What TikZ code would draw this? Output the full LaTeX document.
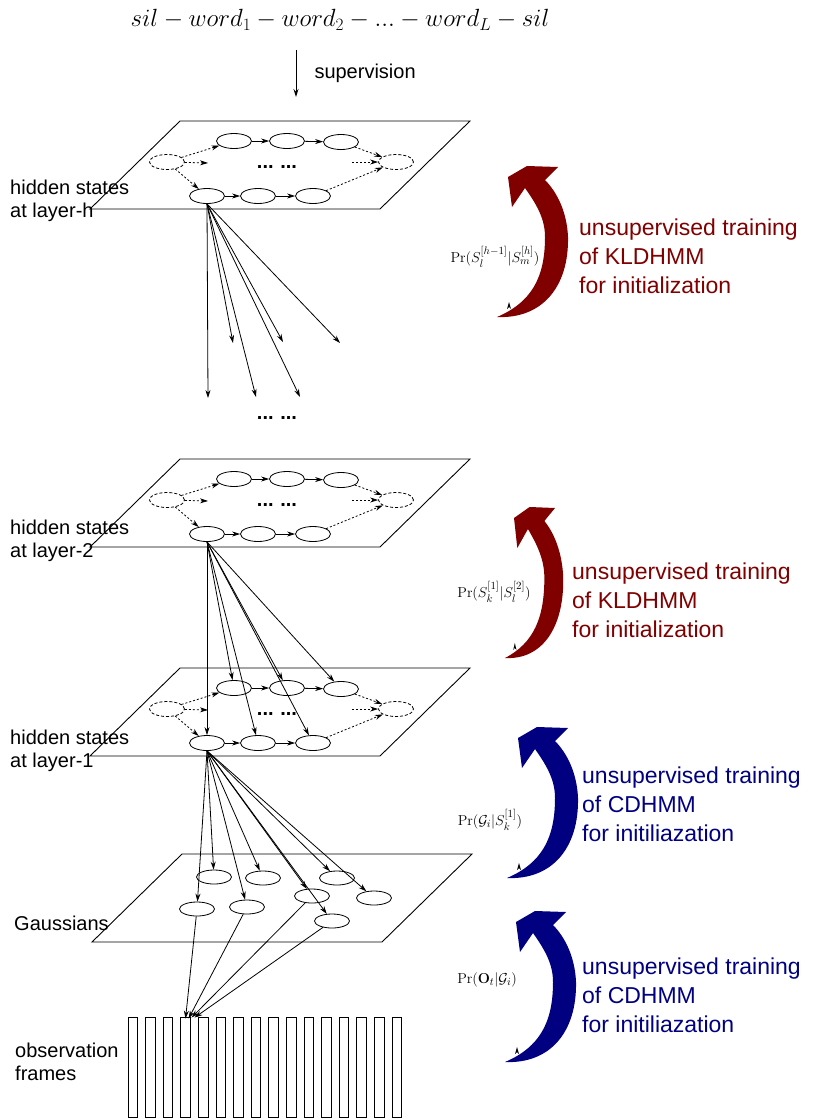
\documentclass[tikz,border=0pt]{standalone}
\usepackage[no-math]{fontspec}
\setmainfont{Liberation Sans}
\usepackage{amsmath}
\usetikzlibrary{arrows.meta, shapes.geometric, positioning}
\definecolor{kldred}{RGB}{128,0,0}
\definecolor{cdblue}{RGB}{0,0,128}

% one plane of hidden states: #1 = name prefix, #2 = y of the top edge
\newcommand{\statelayer}[2]{%
  \draw[plane] (180,#2) -- (470,#2) -- (380,#2+88) -- (90,#2+88) -- cycle;
  \node[state] (#1-t1) at (234,#2+20) {};
  \node[state] (#1-t2) at (287,#2+20) {};
  \node[state] (#1-t3) at (341,#2+21) {};
  \node[state] (#1-b1) at (207,#2+75) {};
  \node[state] (#1-b2) at (258,#2+75) {};
  \node[state] (#1-b3) at (313,#2+75) {};
  \node[state, silstate] (#1-sil0) at (167,#2+41) {};
  \node[state, silstate] (#1-sil1) at (396,#2+41) {};
  \node[dots] (#1-dots) at (277,#2+46) {...\,\,...};
  \coordinate (#1-in) at (208,#2+42);
  \coordinate (#1-out) at (352,#2+41);
  \draw[arrow] (#1-t1) -- (#1-t2);
  \draw[arrow] (#1-t2) -- (#1-t3);
  \draw[arrow] (#1-b1) -- (#1-b2);
  \draw[arrow] (#1-b2) -- (#1-b3);
  \draw[skip] (#1-sil0) -- (#1-t1);
  \draw[skip] (#1-sil0) -- (#1-in);
  \draw[skip] (#1-sil0) -- (#1-b1);
  \draw[skip] (#1-t3) -- (#1-sil1);
  \draw[skip] (#1-out) -- (#1-sil1);
  \draw[skip] (#1-b3) -- (#1-sil1);
}

% fat curved arrow, #1 = colour, (#2,#3) = its tail, #4 = horizontal stretch
\newcommand{\trainarrow}[4]{%
  \begin{scope}[shift={(#2,#3)}, xscale=#4]
  \fill[#1] (0,0)
    .. controls (45,2) and (72,-30) .. (71,-80)
    .. controls (70,-105) and (60,-125) .. (48,-137)
    -- (61,-150) -- (30,-151) -- (11,-140) -- (15,-110) -- (28,-129)
    .. controls (40,-112) and (48,-98) .. (48,-80)
    .. controls (48,-40) and (35,-15) .. (0,0) -- cycle;
  % small tip left at the tail
  \fill[black] (10,-8) -- (12,-15) -- (14,-8) -- (12,-10) -- cycle;
  \end{scope}
}

\begin{document}
\begin{tikzpicture}[
    x=1pt, y=-1pt,
    plane/.style={draw, line width=0.9pt},
    state/.style={ellipse, draw, line width=0.8pt, minimum width=35pt, minimum height=15pt, inner sep=0pt},
    silstate/.style={dash pattern=on 3pt off 2pt},
    gauss/.style={ellipse, draw, line width=0.8pt, minimum width=35pt, minimum height=14pt, inner sep=0pt},
    frame/.style={rectangle, draw, line width=0.8pt, minimum width=9.5pt, minimum height=100pt, inner sep=0pt},
    dots/.style={font=\fontsize{20}{20}\selectfont\bfseries, inner sep=0pt},
    arrow/.style={-{Stealth[length=8pt, width=5pt]}, line width=0.8pt},
    skip/.style={arrow, dash pattern=on 2pt off 2pt},
    lbl/.style={font=\fontsize{20}{23}\selectfont, align=left, anchor=west, inner sep=0pt},
    train/.style={font=\fontsize{23}{29}\selectfont, align=left, anchor=west, inner sep=0pt},
    prob/.style={font=\fontsize{15.5}{18}\selectfont, inner sep=0pt}
]
    \useasboundingbox (0,0) rectangle (812,1119);

    % Label sequence and supervision
    \node[inner sep=0pt, font=\fontsize{25}{25}\selectfont] (words) at (340,20)
        {$sil - word_1 - word_2 - ... - word_L - sil$};
    \coordinate (sup-from) at (296,50);
    \coordinate (sup-to) at (296,97);
    \draw[arrow, line width=1pt] (sup-from) -- (sup-to)
        node[midway, right=18pt, lbl, anchor=west] {supervision};

    % Hidden state planes
    \statelayer{lh}{121}
    \statelayer{l2}{459}
    \statelayer{l1}{668}

    % Layer h fans out to the layers below
    \coordinate (fan1) at (208,398);
    \coordinate (fan2) at (233,343);
    \coordinate (fan3) at (256,397);
    \coordinate (fan4) at (283,342);
    \coordinate (fan5) at (300,397);
    \coordinate (fan6) at (340,343);
    \foreach \i in {1,...,6}
        \draw[arrow] (lh-b1.south) -- (fan\i);
    \node[dots] (mid-dots) at (277,418) {...\,\,...};

    % Layer 2 to layer 1
    \foreach \n in {t1,t2,t3,b1,b2,b3}
        \draw[arrow] (l2-b1.south) -- (l1-\n);

    % Gaussians
    \draw[plane] (182,854) -- (472,854) -- (382,942) -- (92,942) -- cycle;
    \node[gauss] (g1) at (214,877) {};
    \node[gauss] (g2) at (263,878) {};
    \node[gauss] (g3) at (337,878) {};
    \node[gauss] (g4) at (197,909) {};
    \node[gauss] (g5) at (247,907) {};
    \node[gauss] (g6) at (312,896) {};
    \node[gauss] (g7) at (374,898) {};
    \node[gauss] (g8) at (332,921) {};
    \foreach \i in {1,...,8}
        \draw[arrow] (l1-b1.south) -- (g\i);

    % Observation frames
    \foreach \i in {1,...,16}
        \node[frame] (f\i) at ({132.75+(\i-1)*17.6},1067) {};
    \draw[arrow] (g4) -- ([yshift=-2pt]f4.north);
    \draw[arrow] (g5) -- ([xshift=3pt, yshift=-2pt]f4.north);
    \draw[arrow] (g6) -- ([xshift=6pt, yshift=-1pt]f4.north);
    \draw[arrow] (g8) -- ([xshift=9pt, yshift=-1pt]f4.north);

    % Labels
    \node[lbl] (lab-h) at (10,201) {hidden states\\at layer-h};
    \node[lbl] (lab-2) at (10,541) {hidden states\\at layer-2};
    \node[lbl] (lab-1) at (10,751) {hidden states\\at layer-1};
    \node[lbl] (lab-g) at (14,923) {Gaussians};
    \node[lbl] (lab-o) at (15,1062) {observation\\frames};

    % Training steps
    \trainarrow{kldred}{497}{317}{1}
    \trainarrow{kldred}{505}{658}{0.82}
    \trainarrow{cdblue}{507}{878}{1}
    \trainarrow{cdblue}{505}{1062}{1}
    \node[prob] (p-h) at (495,257) {$\Pr(S_l^{[h-1]}|S_m^{[h]})$};
    \node[prob] (p-2) at (494,592) {$\Pr(S_k^{[1]}|S_l^{[2]})$};
    \node[prob] (p-1) at (490,820) {$\Pr(\mathcal{G}_i|S_k^{[1]})$};
    \node[prob] (p-g) at (487,980) {$\Pr(\mathbf{O}_t|\mathcal{G}_i)$};
    \node[train, text=kldred] (t-h) at (579,256) {unsupervised training\\of KLDHMM\\for initialization};
    \node[train, text=kldred] (t-2) at (572,600) {unsupervised training\\of KLDHMM\\for initialization};
    \node[train, text=cdblue] (t-1) at (582,804) {unsupervised training\\of CDHMM\\for initiliazation};
    \node[train, text=cdblue] (t-g) at (582,995) {unsupervised training\\of CDHMM\\for initiliazation};
\end{tikzpicture}
\end{document}
